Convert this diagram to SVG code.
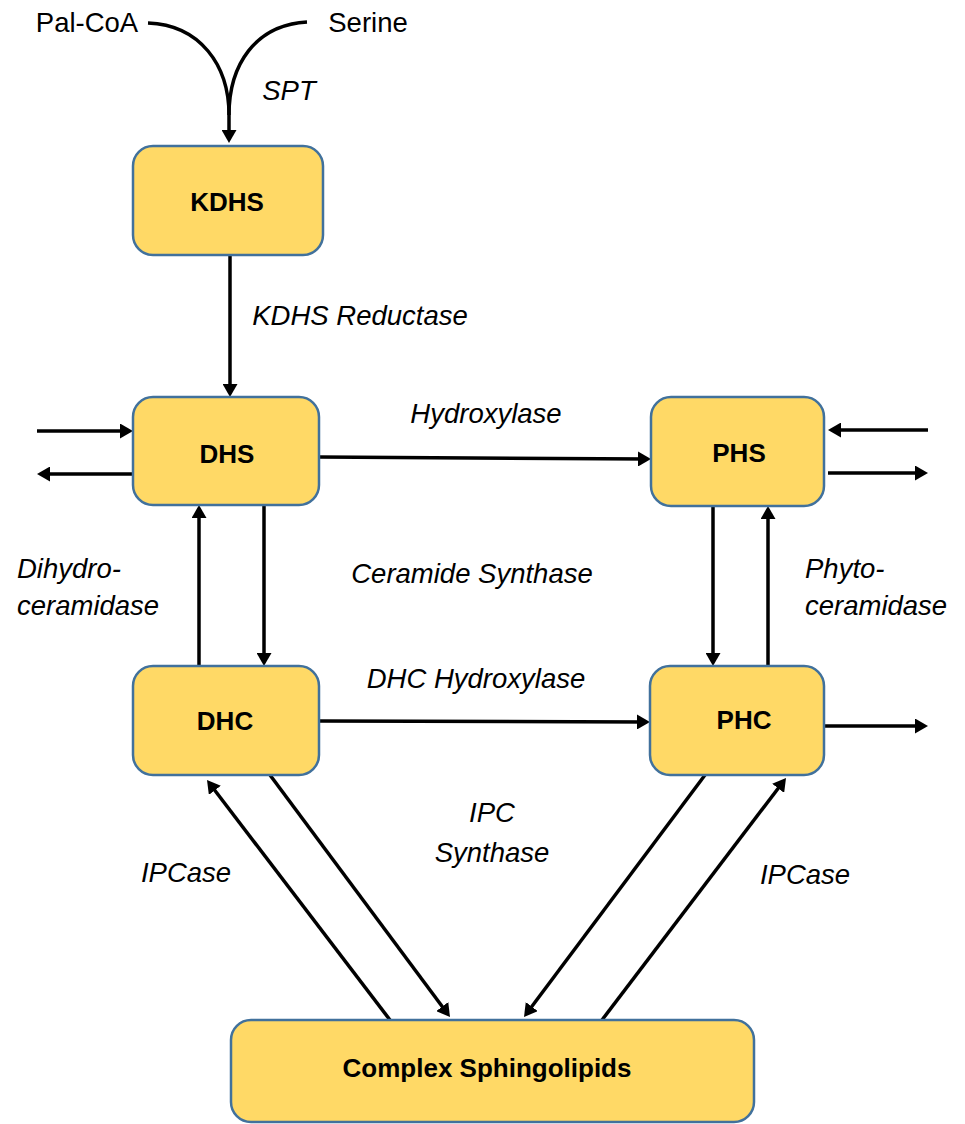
<svg xmlns="http://www.w3.org/2000/svg" width="965" height="1124" viewBox="0 0 965 1124">
<style>
.box{fill:#FFD966;stroke:#41719C;stroke-width:2.5}
.lbl{font-family:"Liberation Sans",Arial,sans-serif;font-weight:bold;font-size:26px;fill:#000;text-anchor:middle}
.enz{font-family:"Liberation Sans",Arial,sans-serif;font-style:italic;font-size:27.5px;fill:#000}
.sub{font-family:"Liberation Sans",Arial,sans-serif;font-size:27.5px;fill:#000}
.c{fill:none;stroke:#000;stroke-width:3.5}
.m{marker-end:url(#ah)}
</style>
<defs>
<marker id="ah" markerUnits="userSpaceOnUse" viewBox="0 0 13 15" markerWidth="13" markerHeight="15" refX="9" refY="7.5" orient="auto">
<path d="M0,0 L13,7.5 L0,15 z" fill="#000"/>
</marker>
</defs>
<g id="connectors">
<path class="c m" d="M148,23 C200,25 229,65 229,115 L229,139"/>
<path class="c" d="M307,22 C255,25 229,65 229,115"/>
<path class="c m" d="M230,255 L230,393"/>
<path class="c m" d="M319,457 L647,459"/>
<path class="c m" d="M37,431 L129,431"/>
<path class="c m" d="M133,474 L41,474"/>
<path class="c m" d="M928,430 L832,430"/>
<path class="c m" d="M828,473 L924,473"/>
<path class="c m" d="M199,666 L199,509"/>
<path class="c m" d="M264,505 L264,662"/>
<path class="c m" d="M713,506 L713,662"/>
<path class="c m" d="M768,666 L768,510"/>
<path class="c m" d="M319,721 L646,722"/>
<path class="c m" d="M824,726 L924,726"/>
<path class="c m" d="M390,1020 L209.4,783.2"/>
<path class="c m" d="M270,775 L447.6,1013.8"/>
<path class="c m" d="M705,775 L526.4,1013.8"/>
<path class="c m" d="M602,1020 L783.6,781.2"/>
</g>
<g id="labels">
<text class="sub" x="87" y="32" text-anchor="middle">Pal-CoA</text>
<text class="sub" x="368" y="32" text-anchor="middle">Serine</text>
<text class="enz" x="289" y="100" text-anchor="middle">SPT</text>
<text class="enz" x="360" y="325" text-anchor="middle">KDHS Reductase</text>
<text class="enz" x="486" y="423" text-anchor="middle">Hydroxylase</text>
<text class="enz" x="17" y="578">Dihydro-</text>
<text class="enz" x="17" y="615">ceramidase</text>
<text class="enz" x="472" y="583" text-anchor="middle">Ceramide Synthase</text>
<text class="enz" x="805" y="578">Phyto-</text>
<text class="enz" x="805" y="615">ceramidase</text>
<text class="enz" x="476" y="688" text-anchor="middle">DHC Hydroxylase</text>
<text class="enz" x="492" y="822" text-anchor="middle">IPC</text>
<text class="enz" x="492" y="862" text-anchor="middle">Synthase</text>
<text class="enz" x="186" y="882" text-anchor="middle">IPCase</text>
<text class="enz" x="805" y="884" text-anchor="middle">IPCase</text>
</g>
<g id="node-KDHS"><rect class="box" x="133" y="146" width="190" height="109" rx="20"/><text class="lbl" x="227" y="211">KDHS</text></g>
<g id="node-DHS"><rect class="box" x="133" y="397" width="186" height="108" rx="20"/><text class="lbl" x="227" y="463">DHS</text></g>
<g id="node-PHS"><rect class="box" x="651" y="397" width="173" height="109" rx="20"/><text class="lbl" x="739" y="462">PHS</text></g>
<g id="node-DHC"><rect class="box" x="133" y="666" width="186" height="109" rx="20"/><text class="lbl" x="225" y="730">DHC</text></g>
<g id="node-PHC"><rect class="box" x="650" y="666" width="174" height="109" rx="20"/><text class="lbl" x="744" y="729">PHC</text></g>
<g id="node-Complex"><rect class="box" x="231" y="1020" width="523" height="102" rx="20"/><text class="lbl" x="487" y="1077">Complex Sphingolipids</text></g>
</svg>
